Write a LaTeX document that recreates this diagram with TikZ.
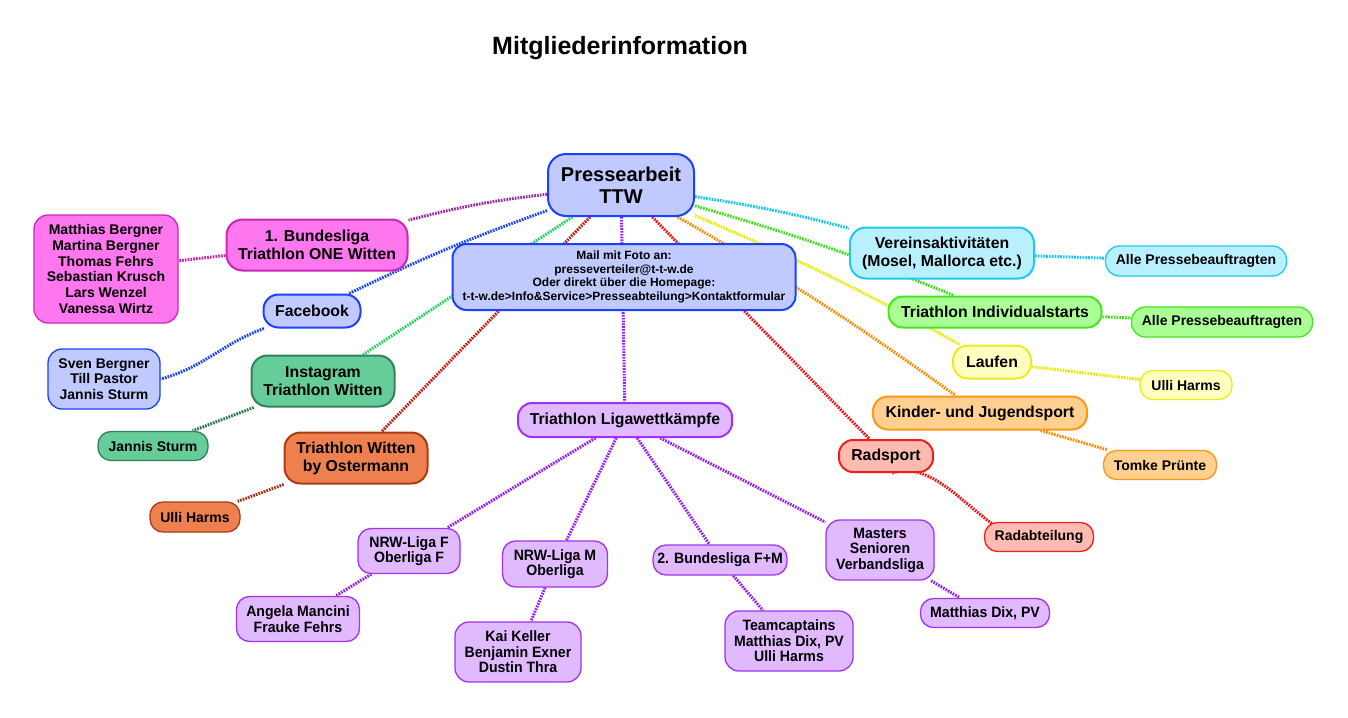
\documentclass[tikz,border=0pt]{standalone}
\usepackage{fontspec}
\setmainfont{Liberation Sans}
\newfontfamily\narrowf{Liberation Sans}[FakeStretch=0.94]
\usetikzlibrary{backgrounds}
\pgfdeclarelayer{paper}
\pgfsetlayers{paper,background,main}
\definecolor{ptfill}{RGB}{192,202,255}
\definecolor{ptdraw}{RGB}{25,65,255}
\definecolor{mgfill}{RGB}{255,119,238}
\definecolor{mgdraw}{RGB}{200,40,180}
\definecolor{mgline}{RGB}{160,40,160}
\definecolor{ingfill}{RGB}{102,204,153}
\definecolor{ingdraw}{RGB}{50,130,90}
\definecolor{ingline}{RGB}{40,210,100}
\definecolor{ingline2}{RGB}{40,120,70}
\definecolor{osfill}{RGB}{238,128,80}
\definecolor{osdraw}{RGB}{170,60,20}
\definecolor{osline}{RGB}{190,30,20}
\definecolor{osline2}{RGB}{170,50,20}
\definecolor{lgfill}{RGB}{224,185,255}
\definecolor{lgdraw}{RGB}{160,50,240}
\definecolor{lgline}{RGB}{150,30,250}
\definecolor{rdfill}{RGB}{255,187,176}
\definecolor{rddraw}{RGB}{240,30,30}
\definecolor{rdline}{RGB}{240,20,20}
\definecolor{vafill}{RGB}{185,240,255}
\definecolor{vadraw}{RGB}{30,200,240}
\definecolor{valine}{RGB}{20,200,250}
\definecolor{isfill}{RGB}{170,255,150}
\definecolor{isdraw}{RGB}{70,230,30}
\definecolor{isline}{RGB}{60,230,20}
\definecolor{lffill}{RGB}{255,255,192}
\definecolor{lfdraw}{RGB}{235,235,30}
\definecolor{lfline}{RGB}{235,235,0}
\definecolor{kjfill}{RGB}{255,208,144}
\definecolor{kjdraw}{RGB}{255,150,20}
\definecolor{kjline}{RGB}{255,140,0}
\definecolor{fbline}{RGB}{30,70,255}
\tikzset{
  box/.style={rounded corners=13pt, align=center, inner sep=0pt, line width=1.3pt},
  mainbox/.style={box, line width=2pt},
  lnk/.style={line width=3pt, dash pattern=on 1.7pt off 1.1pt},
  big/.style={font=\bfseries\fontsize{15.8}{18}\selectfont},
  mid/.style={font=\bfseries\fontsize{14}{15.7}\selectfont},
  nar/.style={font=\narrowf\bfseries\fontsize{15}{15.5}\selectfont},
}
\begin{document}
\begin{tikzpicture}[x=1pt,y=-1pt]
\begin{pgfonlayer}{paper}
\fill[white] (0,0) rectangle (1348,717);
\end{pgfonlayer}
\useasboundingbox (0,0) rectangle (1348,717);
\node[font=\bfseries\fontsize{25}{28}\selectfont] (title) at (620,48) {Mitgliederinformation};

\node[mainbox, fill=ptfill, draw=ptdraw, minimum width=146pt, minimum height=62pt, rounded corners=18pt, font=\bfseries\fontsize{20}{22}\selectfont] (pt) at (621,185) {Pressearbeit\\TTW};

\node[mainbox, fill=ptfill, draw=ptdraw, minimum width=343pt, minimum height=66pt, rounded corners=14pt, font=\bfseries\fontsize{12}{13.4}\selectfont] (mail) at (624,277) {Mail mit Foto an:\\presseverteiler@t-t-w.de\\Oder direkt über die Homepage:\\t-t-w.de>Info\&Service>Presseabteilung>Kontaktformular};

% left
\node[mainbox, big, fill=mgfill, draw=mgdraw, minimum width=181pt, minimum height=51pt, rounded corners=16pt] (bl1) at (317,245) {1. Bundesliga\\Triathlon ONE Witten};
\node[box, mid, fill=mgfill, draw=mgdraw, minimum width=144pt, minimum height=108pt, rounded corners=14pt] (names) at (106,269) {Matthias Bergner\\Martina Bergner\\Thomas Fehrs\\Sebastian Krusch\\Lars Wenzel\\Vanessa Wirtz};
\node[mainbox, big, fill=ptfill, draw=ptdraw, minimum width=97pt, minimum height=33pt, rounded corners=15pt] (fb) at (312,311) {Facebook};
\node[box, mid, fill=ptfill, draw=ptdraw, minimum width=112pt, minimum height=60pt, rounded corners=14pt] (sven) at (104,379) {Sven Bergner\\Till Pastor\\Jannis Sturm};
\node[mainbox, big, fill=ingfill, draw=ingdraw, minimum width=143pt, minimum height=51pt, rounded corners=16pt] (insta) at (323,381) {Instagram\\Triathlon Witten};
\node[box, mid, fill=ingfill, draw=ingdraw, minimum width=110pt, minimum height=29pt, rounded corners=13pt] (jannis) at (153,446) {Jannis Sturm};
\node[mainbox, big, fill=osfill, draw=osdraw, minimum width=143pt, minimum height=51pt, rounded corners=16pt] (oster) at (356,458) {Triathlon Witten\\by Ostermann};
\node[box, mid, fill=osfill, draw=osdraw, minimum width=90pt, minimum height=30pt, rounded corners=13pt] (ulliO) at (195,517) {Ulli Harms};

% liga
\node[mainbox, big, fill=lgfill, draw=lgdraw, minimum width=214pt, minimum height=34pt, rounded corners=14pt] (liga) at (625,420) {Triathlon Ligawettkämpfe};
\node[box, nar, fill=lgfill, draw=lgdraw, minimum width=102pt, minimum height=45pt, rounded corners=13pt] (nrwf) at (409,551) {NRW-Liga F\\Oberliga F};
\node[box, nar, fill=lgfill, draw=lgdraw, minimum width=105pt, minimum height=46pt, rounded corners=13pt] (nrwm) at (555,564) {NRW-Liga M\\Oberliga};
\node[box, nar, fill=lgfill, draw=lgdraw, minimum width=134pt, minimum height=30pt, rounded corners=13pt] (bl2) at (720,560) {2. Bundesliga F+M};
\node[box, nar, fill=lgfill, draw=lgdraw, minimum width=108pt, minimum height=60pt, rounded corners=14pt] (masters) at (880,550) {Masters\\Senioren\\Verbandsliga};
\node[box, nar, fill=lgfill, draw=lgdraw, minimum width=123pt, minimum height=45pt, rounded corners=13pt] (angela) at (298,619) {Angela Mancini\\Frauke Fehrs};
\node[box, nar, fill=lgfill, draw=lgdraw, minimum width=126pt, minimum height=60pt, rounded corners=14pt] (kai) at (518,652) {Kai Keller\\Benjamin Exner\\Dustin Thra};
\node[box, nar, fill=lgfill, draw=lgdraw, minimum width=128pt, minimum height=60pt, rounded corners=14pt] (team) at (789,641) {Teamcaptains\\Matthias Dix, PV\\Ulli Harms};
\node[box, nar, fill=lgfill, draw=lgdraw, minimum width=129pt, minimum height=29pt, rounded corners=13pt] (dix) at (985,613) {Matthias Dix, PV};

% right
\node[mainbox, big, fill=rdfill, draw=rddraw, minimum width=94pt, minimum height=32pt, rounded corners=14pt] (rad) at (886,456) {Radsport};
\node[box, mid, fill=rdfill, draw=rddraw, minimum width=109pt, minimum height=29pt, rounded corners=13pt] (radab) at (1039,537) {Radabteilung};
\node[mainbox, big, fill=vafill, draw=vadraw, minimum width=184pt, minimum height=51pt, rounded corners=16pt] (verein) at (942,253) {Vereinsaktivitäten\\(Mosel, Mallorca etc.)};
\node[box, mid, fill=vafill, draw=vadraw, minimum width=181pt, minimum height=30pt, rounded corners=14pt] (alleC) at (1196,261) {Alle Pressebeauftragten};
\node[mainbox, big, fill=isfill, draw=isdraw, minimum width=213pt, minimum height=31pt, rounded corners=14pt] (indiv) at (995,312) {Triathlon Individualstarts};
\node[box, mid, fill=isfill, draw=isdraw, minimum width=181pt, minimum height=30pt, rounded corners=14pt] (alleG) at (1222,322) {Alle Pressebeauftragten};
\node[mainbox, big, fill=lffill, draw=lfdraw, minimum width=78pt, minimum height=33pt, rounded corners=15pt] (laufen) at (992,362) {Laufen};
\node[box, mid, fill=lffill, draw=lfdraw, minimum width=92pt, minimum height=29pt, rounded corners=13pt] (ulliY) at (1186,385) {Ulli Harms};
\node[mainbox, big, fill=kjfill, draw=kjdraw, minimum width=214pt, minimum height=33pt, rounded corners=15pt] (kinder) at (980,413) {Kinder- und Jugendsport};
\node[box, mid, fill=kjfill, draw=kjdraw, minimum width=113pt, minimum height=29pt, rounded corners=13pt] (tomke) at (1160,465) {Tomke Prünte};

\begin{pgfonlayer}{background}
% from centre
\draw[lnk, mgline] (pt) to[bend right=4] (bl1);
\draw[lnk, fbline] (pt) to[bend right=3] (fb);
\draw[lnk, ingline] (pt) -- (insta);
\draw[lnk, osline] (pt) -- (oster);
\draw[lnk, lgline] (pt) -- (liga);
\draw[lnk, rdline] (pt) -- (rad);
\draw[lnk, kjline] (pt) to[bend left=3] (kinder);
\draw[lnk, lfline] (pt) to[bend left=3] (laufen);
\draw[lnk, isline] (pt) to[bend left=3] (indiv);
\draw[lnk, valine] (pt) to[bend left=3] (verein);
% children
\draw[lnk, mgdraw] (bl1) -- (names);
\draw[lnk, fbline] (fb.200) to[out=200,in=15] (sven.east);
\draw[lnk, ingline2] (insta) -- (jannis);
\draw[lnk, osline2] (oster) -- (ulliO);
\draw[lnk, lgline] (liga) -- (nrwf);
\draw[lnk, lgline] (liga) -- (nrwm);
\draw[lnk, lgline] (liga) -- (bl2);
\draw[lnk, lgline] (liga) -- (masters);
\draw[lnk, lgline] (nrwf) -- (angela);
\draw[lnk, lgline] (nrwm) -- (kai);
\draw[lnk, lgline] (bl2) -- (team);
\draw[lnk, lgline] (masters) -- (dix);
\draw[lnk, rdline] (rad.-70) to[out=20,in=-125] (radab.100);
\draw[lnk, valine] (verein) -- (alleC);
\draw[lnk, isline] (indiv) -- (alleG);
\draw[lnk, lfline] (laufen) -- (ulliY);
\draw[lnk, kjline] (kinder) -- (tomke);
\end{pgfonlayer}
\end{tikzpicture}
\end{document}
